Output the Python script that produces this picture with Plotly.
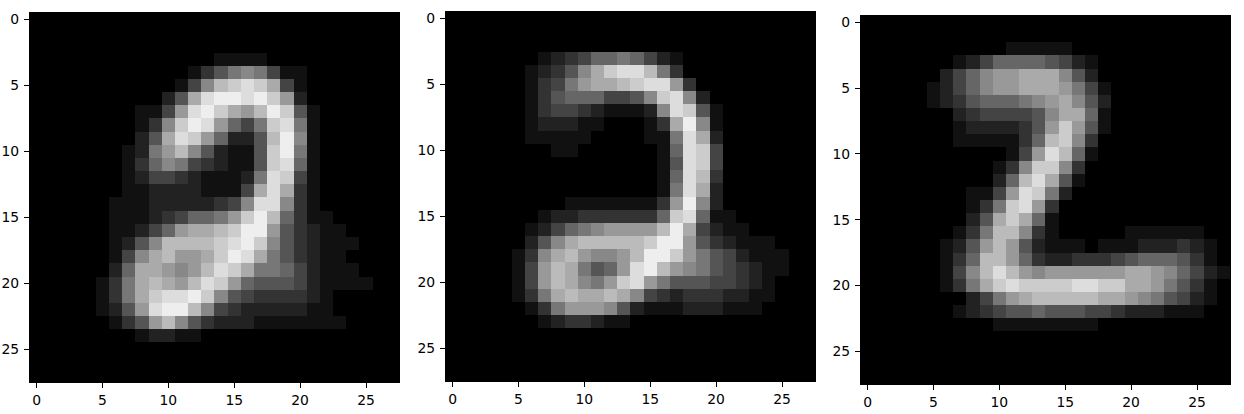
import plotly.graph_objects as go

# pixel rows of the three digit images, one hex digit per pixel (0 = black, f = white)
digit_left = [
    "0000000000000000000000000000",
    "0000000000000000000000000000",
    "0000000000000000000000000000",
    "0000000000000011110000000000",
    "0000000000001357874110000000",
    "00000000000148bcdca410000000",
    "000000000025adeedec920000000",
    "000000001149deca9bec51000000",
    "00000000138ced9647cd71000000",
    "0000000025adc96225be81000000",
    "00000001279b852115ce71000000",
    "000000013687432115cd61000000",
    "000000012443211127dc41000000",
    "00000001122221114ada31000000",
    "00000011122222348dd831000000",
    "0000001112346679ceb631100000",
    "000000112469aabcee9532110000",
    "0000001258bbbbcdec8532111000",
    "000000148ab99aceda7532110000",
    "00000026aa989bdca77642111000",
    "00000137aba9bdc9655542111100",
    "00000137acddec85433332100000",
    "000001259deeb843222221100000",
    "0000001359b85322211111110000",
    "0000000012211000000000000000",
    "0000000000000000000000000000",
    "0000000000000000000000000000",
    "0000000000000000000000000000",
]

digit_middle = [
    "0000000000000000000000000000",
    "0000000000000000000000000000",
    "0000000000000000000000000000",
    "0000000123466764210000000000",
    "00000012358acddb730000000000",
    "00000013479aabcdd93000000000",
    "0000001356664458cd8200000000",
    "00000013443211128dc510000000",
    "00000012221100013ae810000000",
    "000000111110000117da20000000",
    "000000001100000016dc40000000",
    "000000000000000015dc40000000",
    "000000000000000016db30000000",
    "000000000000000017da20000000",
    "000000000111111139e820000000",
    "00000001223333336cd611000000",
    "0000001246789999bea421100000",
    "000000258abbbbbcee9532111000",
    "00000138ab9889beec9754211100",
    "00000149ba7569deb98754321100",
    "00000149ba879cd9755544321000",
    "00000137abaaba84323332211000",
    "0000001379998521112221110000",
    "0000000123321100000000000000",
    "0000000000000000000000000000",
    "0000000000000000000000000000",
    "0000000000000000000000000000",
    "0000000000000000000000000000",
]

digit_right = [
    "0000000000000000000000000000",
    "0000000000000000000000000000",
    "0000000000011111000000000000",
    "0000000124666654210000000000",
    "000000246899aaa8520000000000",
    "000001246899aaa9741000000000",
    "000001235666789a852000000000",
    "000000023444458aa61000000000",
    "000000012222359c951000000000",
    "00000001111136bc830000000000",
    "00000000000149db610000000000",
    "0000000000138cc8300000000000",
    "000000000026bda5100000000000",
    "000000001149dc72000000000000",
    "00000000137cd930000000000000",
    "0000000025aca610000000000000",
    "0000000137bb8310000011111100",
    "0000001259b95211101112223210",
    "000000136bb96322333456665310",
    "000000148bdb98999999aa986421",
    "000000137acdccccddccaa975310",
    "000000002479abbbbbaa98754210",
    "0000000123455655544322211100",
    "0000000000111111110000000000",
    "0000000000000000000000000000",
    "0000000000000000000000000000",
    "0000000000000000000000000000",
    "0000000000000000000000000000",
]

tick_vals = [0, 5, 10, 15, 20, 25]

# panel positions as fractions of the 1244 x 414 page
x_domains = [[0.0241, 0.3207], [0.3585, 0.6551], [0.6921, 0.9887]]
y_domains = [[0.0773, 0.9686], [0.0797, 0.9710], [0.0725, 0.9614]]


def to_z(rows):
    return [[int(ch, 16) * 17 for ch in row] for row in rows]


fig = go.Figure()
layout = dict(
    width=1244, height=414,
    margin=dict(l=0, r=0, t=0, b=0),
    paper_bgcolor="white", plot_bgcolor="black",
    font=dict(family="DejaVu Sans", size=13.9, color="black"),
    showlegend=False,
)

for i, rows in enumerate([digit_left, digit_middle, digit_right]):
    n = "" if i == 0 else str(i + 1)
    fig.add_trace(go.Heatmap(
        z=to_z(rows),
        colorscale=[[0, "#000000"], [1, "#ffffff"]],
        zmin=0, zmax=255, showscale=False, hoverinfo="skip",
        xaxis="x" + n, yaxis="y" + n,
    ))
    axis_style = dict(
        tickvals=tick_vals, ticks="outside", ticklen=5, tickwidth=1,
        tickcolor="black", showgrid=False, zeroline=False,
        showline=True, linecolor="black", linewidth=1, mirror=True,
        automargin=False,
    )
    layout["xaxis" + n] = dict(axis_style, domain=x_domains[i], range=[-0.5, 27.5],
                               anchor="y" + n, ticklabelstandoff=0)
    layout["yaxis" + n] = dict(axis_style, domain=y_domains[i], range=[27.5, -0.5],
                               anchor="x" + n, ticklabelstandoff=2)

fig.update_layout(**layout)
# drop the browser's default 8px body margin so the figure fills the window
fig.write_html("out.html", config={"displayModeBar": False},
               post_script="document.body.style.margin = '0';")
